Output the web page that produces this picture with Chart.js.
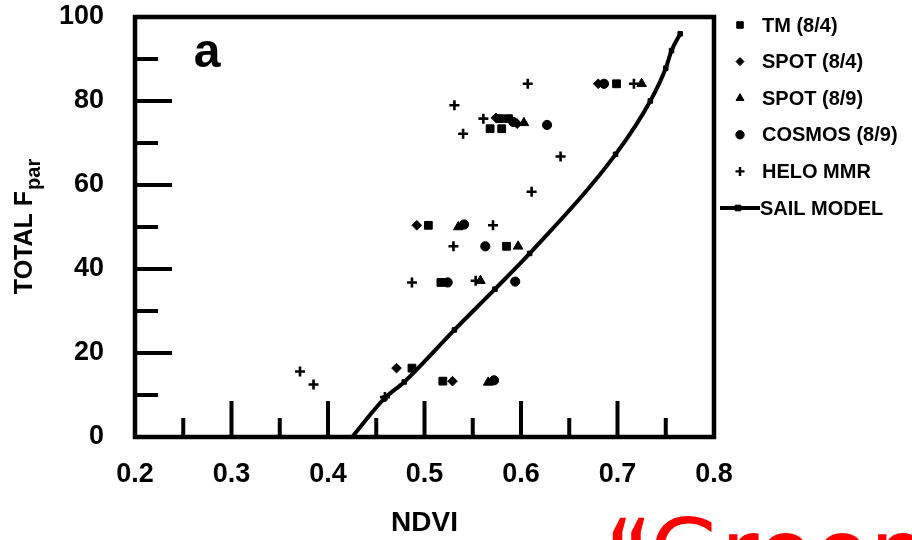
<!DOCTYPE html>
<html>
<head>
<meta charset="utf-8">
<script src="https://cdn.jsdelivr.net/npm/chart.js@4.4.1/dist/chart.umd.min.js"></script>
<style>
  html, body { margin: 0; padding: 0; background: #fff; overflow: hidden; }
  #wrap { position: relative; width: 912px; height: 540px; }
  #note { position: absolute; left: 605px; top: 508px; font: 92px "DejaVu Sans"; line-height: 1; color: #f00; white-space: nowrap; }
</style>
</head>
<body>
<div id="wrap">
  <canvas id="fparChart" width="912" height="540"></canvas>
  <div id="note">“Green</div>
</div>
<script>
// tick values
const ndviTicks = [0.2, 0.3, 0.4, 0.5, 0.6, 0.7, 0.8];
const ndviMarks = [0.25, 0.3, 0.35, 0.4, 0.45, 0.5, 0.55, 0.6, 0.65, 0.7, 0.75];
const fparTicks = [0, 20, 40, 60, 80, 100];
const fparMarks = [10, 20, 30, 40, 50, 60, 70, 80, 90];

const seriesNames = ["TM (8/4)", "SPOT (8/4)", "SPOT (8/9)", "COSMOS (8/9)", "HELO MMR", "SAIL MODEL"];

// measured points (NDVI, total Fpar)
const tmNdvi = [0.487, 0.519, 0.504, 0.585, 0.517, 0.568, 0.580, 0.578, 0.587, 0.699];
const tmFpar = [16.4, 13.3, 50.4, 45.4, 36.8, 73.4, 73.4, 75.8, 75.8, 84.1];

const spot4Ndvi = [0.471, 0.529, 0.492, 0.574, 0.596, 0.680];
const spot4Fpar = [16.4, 13.3, 50.4, 76.0, 74.6, 84.1];

const spot9Ndvi = [0.566, 0.558, 0.597, 0.535, 0.603, 0.725];
const spot9Fpar = [13.0, 37.2, 45.4, 50.0, 74.8, 84.1];

const cosmosNdvi = [0.572, 0.524, 0.594, 0.563, 0.541, 0.627, 0.686, 0.592];
const cosmosFpar = [13.5, 36.8, 37.0, 45.4, 50.6, 74.3, 84.1, 75.0];

const heloNdvi = [0.371, 0.385, 0.459, 0.487, 0.553, 0.530, 0.571, 0.611, 0.641, 0.540, 0.561, 0.531, 0.607, 0.717];
const heloFpar = [15.6, 12.5, 9.5, 36.8, 37.2, 45.4, 50.4, 58.4, 66.8, 72.2, 75.8, 79.0, 84.1, 84.1];

// SAIL model curve
const sailNdvi = [0.425, 0.459, 0.479, 0.531, 0.573, 0.609, 0.698, 0.734, 0.750, 0.756, 0.765];
const sailFpar = [0, 9.3, 13.1, 25.5, 35.2, 43.7, 67.3, 80.0, 87.8, 92.0, 96.0];

const pts = (xs, ys) => xs.map((x, i) => ({ x: x, y: ys[i] }));
const FONT = '"Liberation Sans", Arial, sans-serif';

const styles = [
  { pointStyle: "rect", radius: 5.5 },
  { pointStyle: "rectRot", radius: 4.8 },
  { pointStyle: "triangle", radius: 5.5 },
  { pointStyle: "circle", radius: 4.6 },
  { pointStyle: "cross", radius: 5 },
];
const legendStyles = [
  { pointStyle: "rect", radius: 4.6 },
  { pointStyle: "rectRot", radius: 4 },
  { pointStyle: "triangle", radius: 4.6 },
  { pointStyle: "circle", radius: 4.2 },
  { pointStyle: "cross", radius: 4.5 },
];

const scatterSet = (i, xs, ys) => ({
  label: seriesNames[i],
  data: pts(xs, ys),
  pointStyle: styles[i].pointStyle,
  pointRadius: styles[i].radius,
  pointHoverRadius: styles[i].radius,
  backgroundColor: "#000",
  borderColor: "#000",
  borderWidth: styles[i].pointStyle === "cross" ? 2.6 : 1,
  showLine: false,
  order: 1
});

const decor = {
  id: "decor",
  afterDatasetsDraw(chart) {
    const ctx = chart.ctx;
    const a = chart.chartArea;
    const xs = chart.scales.x, ys = chart.scales.y;
    ctx.save();
    ctx.strokeStyle = "#000";
    ctx.lineWidth = 4;
    ctx.lineCap = "butt";
    ndviMarks.forEach(v => {
      const px = xs.getPixelForValue(v);
      const len = Math.abs(Math.round(v * 100) % 10) < 0.01 ? 36 : 19;
      ctx.beginPath();
      ctx.moveTo(px, a.bottom);
      ctx.lineTo(px, a.bottom - len);
      ctx.stroke();
    });
    fparMarks.forEach(v => {
      const py = ys.getPixelForValue(v);
      const len = v % 20 === 0 ? 37 : 23;
      ctx.beginPath();
      ctx.moveTo(a.left, py);
      ctx.lineTo(a.left + len, py);
      ctx.stroke();
    });
    ctx.lineWidth = 4.5;
    ctx.strokeRect(a.left, a.top, a.right - a.left, a.bottom - a.top);
    ctx.restore();
  },
  afterDraw(chart) {
    const ctx = chart.ctx;
    const a = chart.chartArea;
    ctx.save();
    ctx.fillStyle = "#000";

    // panel letter
    ctx.font = "bold 48px " + FONT;
    ctx.textAlign = "center";
    ctx.textBaseline = "alphabetic";
    ctx.fillText("a", 207, 67);

    // y title with subscript
    ctx.textAlign = "left";
    ctx.font = "bold 25px " + FONT;
    const w1 = ctx.measureText("TOTAL F").width;
    ctx.font = "bold 20px " + FONT;
    const w2 = ctx.measureText("par").width;
    const cy = (a.top + a.bottom) / 2;
    ctx.translate(32, cy + (w1 + w2) / 2);
    ctx.rotate(-Math.PI / 2);
    ctx.font = "bold 25px " + FONT;
    ctx.fillText("TOTAL F", 0, 0);
    ctx.font = "bold 20px " + FONT;
    ctx.fillText("par", w1 + 1, 8);
    ctx.setTransform(1, 0, 0, 1, 0, 0);

    // legend
    const lx = a.right + 26, tx = a.right + 48;
    ctx.font = "bold 20px " + FONT;
    ctx.textBaseline = "middle";
    ctx.strokeStyle = "#000";
    seriesNames.forEach((name, i) => {
      const y = 25 + i * 36.6;
      if (i < 5) {
        const st = legendStyles[i];
        ctx.lineWidth = st.pointStyle === "cross" ? 2.4 : 1;
        Chart.helpers.drawPoint(ctx, { pointStyle: st.pointStyle, radius: st.radius, borderWidth: ctx.lineWidth, rotation: 0 }, lx, y);
        ctx.fillText(name, tx, y + 1);
      } else {
        ctx.lineWidth = 4;
        ctx.beginPath();
        ctx.moveTo(a.right + 6, y);
        ctx.lineTo(a.right + 46, y);
        ctx.stroke();
        ctx.lineWidth = 1;
        Chart.helpers.drawPoint(ctx, { pointStyle: "rect", radius: 4, borderWidth: 1, rotation: 0 }, lx - 2, y);
        ctx.fillText(name, tx - 2, y + 1);
      }
    });
    ctx.restore();
  }
};

new Chart(document.getElementById("fparChart").getContext("2d"), {
  type: "scatter",
  data: {
    datasets: [
      scatterSet(0, tmNdvi, tmFpar),
      scatterSet(1, spot4Ndvi, spot4Fpar),
      scatterSet(2, spot9Ndvi, spot9Fpar),
      scatterSet(3, cosmosNdvi, cosmosFpar),
      scatterSet(4, heloNdvi, heloFpar),
      {
        label: seriesNames[5],
        data: pts(sailNdvi, sailFpar),
        showLine: true,
        borderColor: "#000",
        backgroundColor: "#000",
        borderWidth: 4,
        cubicInterpolationMode: "monotone",
        pointStyle: "rect",
        pointRadius: sailNdvi.map((v, i) => i === 0 ? 0 : 3.2),
        pointBorderWidth: 1,
        order: 5
      }
    ]
  },
  options: {
    responsive: false,
    animation: false,
    layout: { padding: { top: 17, right: 198, left: 0, bottom: 0 } },
    plugins: { legend: { display: false }, tooltip: { enabled: false } },
    scales: {
      x: {
        type: "linear",
        min: 0.2, max: 0.8,
        afterBuildTicks: s => { s.ticks = ndviTicks.map(v => ({ value: v })); },
        afterFit: s => { s.height = 103; s.paddingLeft = 0; s.paddingRight = 0; },
        grid: { display: false },
        border: { display: false },
        ticks: {
          color: "#000",
          font: { family: FONT, size: 27, weight: "bold" },
          padding: 13,
          maxRotation: 0,
          autoSkip: false,
          callback: v => v.toFixed(1)
        },
        title: {
          display: true,
          text: "NDVI",
          color: "#000",
          font: { family: FONT, size: 28, weight: "bold" },
          padding: { top: 0, bottom: 0 }
        }
      },
      y: {
        min: 0, max: 100,
        afterBuildTicks: s => { s.ticks = fparTicks.map(v => ({ value: v })); },
        afterFit: s => { s.width = 135; s.paddingTop = 0; s.paddingBottom = 0; },
        grid: { display: false },
        border: { display: false },
        ticks: {
          color: "#000",
          font: { family: FONT, size: 27, weight: "bold" },
          padding: 23
        }
      }
    }
  },
  plugins: [decor]
});
</script>
</body>
</html>
